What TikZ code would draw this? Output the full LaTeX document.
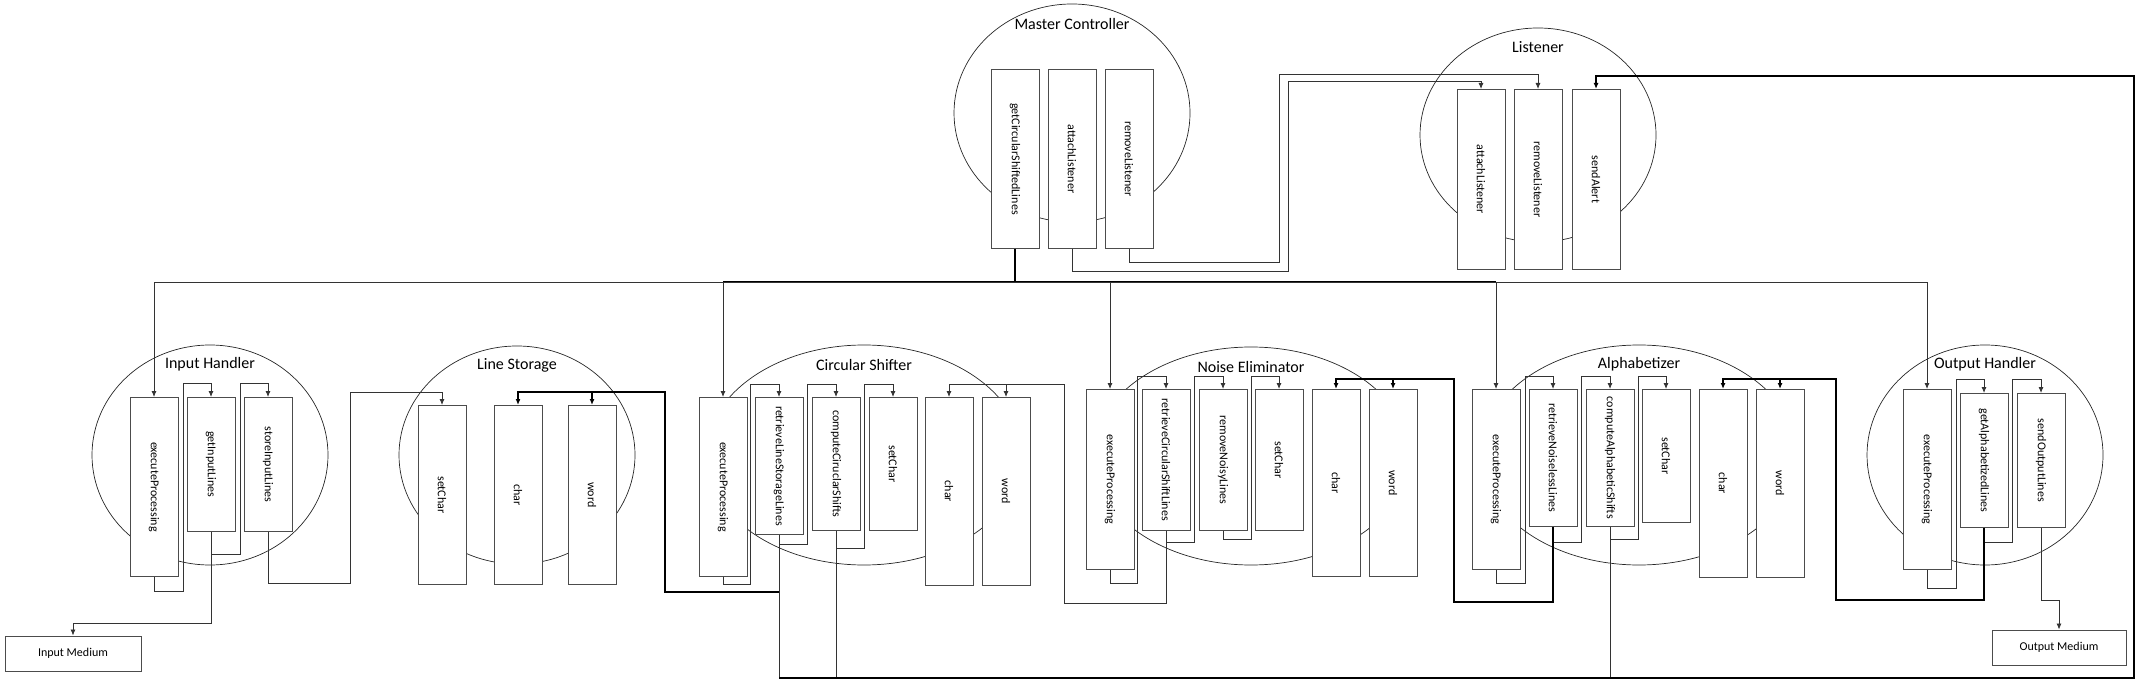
\documentclass[tikz,border=0pt]{standalone}
\usepackage{fontspec}
\setmainfont{Carlito}
\usetikzlibrary{shapes.geometric,arrows.meta}

\newcommand{\turned}[1]{\rotatebox{-90}{#1}}

\tikzset{
    compo/.style={ellipse, draw=black!85, line width=0.7pt, inner sep=0pt},
    method/.style={draw=black!70, fill=white, line width=0.9pt, minimum width=48pt,
        inner sep=0pt, anchor=north, font=\fontsize{12}{14}\selectfont},
    iobox/.style={draw=black!70, line width=0.9pt, minimum height=35pt, inner sep=0pt,
        font=\fontsize{12}{14}\selectfont},
    wire/.style={draw=black!80, line width=0.8pt},
    heavy/.style={draw=black, line width=1.8pt},
    alertline/.style={draw=black, line width=1.3pt},
}

\begin{document}
\begin{tikzpicture}[x=1pt, y=-1pt, >={Latex[length=6pt,width=5pt]},
    every label/.style={font=\fontsize{16}{19}\selectfont}]
    \useasboundingbox (0,0) rectangle (2140,684);

    % modules
    \node[compo, minimum width=236pt, minimum height=218pt, label={[anchor=center,yshift=-20pt]north:Master Controller}] (mc) at (1072,113) {};
    \node[compo, minimum width=236pt, minimum height=214pt, label={[anchor=center,yshift=-19pt]north:Listener}] (li) at (1538,135) {};
    \node[compo, minimum width=236pt, minimum height=220pt, label={[anchor=center,yshift=-20pt]north:Input Handler}] (ih) at (210,455) {};
    \node[compo, minimum width=236pt, minimum height=218pt, label={[anchor=center,yshift=-20pt]north:Line Storage}] (ls) at (517,455) {};
    \node[compo, minimum width=316pt, minimum height=220pt, label={[anchor=center,yshift=-20pt]north:Circular Shifter}] (cs) at (864,455) {};
    \node[compo, minimum width=316pt, minimum height=218pt, label={[anchor=center,yshift=-20pt]north:Noise Eliminator}] (ne) at (1251,456) {};
    \node[compo, minimum width=316pt, minimum height=220pt, label={[anchor=center,yshift=-20pt]north:Alphabetizer}] (al) at (1639,455) {};
    \node[compo, minimum width=236pt, minimum height=220pt, label={[anchor=center,yshift=-20pt]north:Output Handler}] (oh) at (1985,455) {};

    % methods
    \node[method, minimum height=179pt] (mcGet) at (1015,69) {\turned{getCircularShiftedLines}};
    \node[method, minimum height=179pt] (mcAttach) at (1072,69) {\turned{attachListener}};
    \node[method, minimum height=179pt] (mcRemove) at (1129,69) {\turned{removeListener}};

    \node[method, minimum height=180pt] (liAttach) at (1481,89) {\turned{attachListener}};
    \node[method, minimum height=180pt] (liRemove) at (1538,89) {\turned{removeListener}};
    \node[method, minimum height=180pt] (liSend) at (1596,89) {\turned{sendAlert}};

    \node[method, minimum height=179pt] (ihExec) at (154,397) {\turned{executeProcessing}};
    \node[method, minimum height=134pt] (ihGet) at (211,397) {\turned{getInputLines}};
    \node[method, minimum height=134pt] (ihStore) at (268,397) {\turned{storeInputLines}};

    \node[method, minimum height=179pt] (lsSet) at (442,405) {\turned{setChar}};
    \node[method, minimum height=179pt] (lsChar) at (518,405) {\turned{char}};
    \node[method, minimum height=179pt] (lsWord) at (592,405) {\turned{word}};

    \node[method, minimum height=179pt] (csExec) at (723,397) {\turned{executeProcessing}};
    \node[method, minimum height=137pt] (csRetr) at (779,397) {\turned{retrieveLineStorageLines}};
    \node[method, minimum height=133pt] (csComp) at (836,397) {\turned{computeCiruclarShifts}};
    \node[method, minimum height=133pt] (csSet) at (893,397) {\turned{setChar}};
    \node[method, minimum height=188pt] (csChar) at (949,397) {\turned{char}};
    \node[method, minimum height=188pt] (csWord) at (1006,397) {\turned{word}};

    \node[method, minimum height=180pt] (neExec) at (1110,389) {\turned{executeProcessing}};
    \node[method, minimum height=141pt] (neRetr) at (1166,389) {\turned{retrieveCircularShiftLines}};
    \node[method, minimum height=141pt] (neRem) at (1223,389) {\turned{removeNoisyLines}};
    \node[method, minimum height=141pt] (neSet) at (1279,389) {\turned{setChar}};
    \node[method, minimum height=187pt] (neChar) at (1336,389) {\turned{char}};
    \node[method, minimum height=187pt] (neWord) at (1393,389) {\turned{word}};

    \node[method, minimum height=180pt] (alExec) at (1496,389) {\turned{executeProcessing}};
    \node[method, minimum height=137pt] (alRetr) at (1553,389) {\turned{retrieveNoiselessLines}};
    \node[method, minimum height=137pt] (alComp) at (1610,389) {\turned{computeAlphabeticShifts}};
    \node[method, minimum height=133pt] (alSet) at (1666,389) {\turned{setChar}};
    \node[method, minimum height=188pt] (alChar) at (1723,389) {\turned{char}};
    \node[method, minimum height=188pt] (alWord) at (1780,389) {\turned{word}};

    \node[method, minimum height=180pt] (ohExec) at (1927,389) {\turned{executeProcessing}};
    \node[method, minimum height=134pt] (ohGet) at (1984,393) {\turned{getAlphabetizedLines}};
    \node[method, minimum height=134pt] (ohSend) at (2041,393) {\turned{sendOutputLines}};

    \node[iobox, minimum width=136pt] (inMed) at (73,653.5) {Input Medium};
    \node[iobox, minimum width=134pt] (outMed) at (2059,647.5) {Output Medium};

    \coordinate (hub) at (1015,282);
    \coordinate (bl) at (0,678);

    % master controller calls
    \draw[heavy] (mcGet.south) -- (hub);
    \draw[heavy] (csExec.north |- hub) -- (alExec.north |- hub);
    \draw[wire,->] (hub) -| (ihExec.north);
    \draw[wire,->] (hub) -| (csExec.north);
    \draw[wire,->] (hub) -| (neExec.north);
    \draw[wire,->] (hub) -| (alExec.north);
    \draw[wire,->] (hub) -| (ohExec.north);
    \draw[wire,->] (mcAttach.south) -- ++(0,23) -| (1288,81) -| (liAttach.north);
    \draw[wire,->] (mcRemove.south) -- ++(0,14) -| (1279,74) -| (liRemove.north);

    % input handler
    \draw[wire,->] (ihExec.south) -- ++(0,14) -| (183,383) -| (ihGet.north);
    \draw[wire,->] (ihGet.south) -- ++(0,22) -| (240,383) -| (ihStore.north);
    \draw[wire,->] (ihGet.south) -- ++(0,91) -| (inMed.north);
    \draw[wire,->] (ihStore.south) -- ++(0,51) -| (350,392) -| (lsSet.north);

    % circular shifter
    \draw[wire,->] (csExec.south) -- ++(0,7) -| (750,384) -| (csRetr.north);
    \draw[wire,->] (csRetr.south) -- ++(0,9) -| (807,384) -| (csComp.north);
    \draw[wire,->] (csComp.south) -- ++(0,17) -| (864,384) -| (csSet.north);
    \draw[heavy,->] (csRetr.south) ++(0,57) -| (665,392) -| (lsChar.north);
    \draw[heavy,->] (665,392) -| (lsWord.north);

    % noise eliminator
    \draw[wire,->] (neExec.south) -- ++(0,13) -| (1137,376) -| (neRetr.north);
    \draw[wire,->] (neRetr.south) -- ++(0,11) -| (1194,376) -| (neRem.north);
    \draw[wire,->] (neRem.south) -- ++(0,8) -| (1251,376) -| (neSet.north);
    \draw[wire,->] (neRetr.south) -- ++(0,72) -| (1064,384) -| (csChar.north);
    \draw[wire,->] (1064,384) -| (csWord.north);

    % alphabetizer
    \draw[wire,->] (alExec.south) -- ++(0,13) -| (1525,376) -| (alRetr.north);
    \draw[wire,->] (alRetr.south) -- ++(0,15) -| (1581,376) -| (alComp.north);
    \draw[wire,->] (alComp.south) -- ++(0,12) -| (1638,376) -| (alSet.north);
    \draw[heavy,->] (alRetr.south) -- ++(0,75) -| (1454,379) -| (neChar.north);
    \draw[heavy,->] (1454,379) -| (neWord.north);

    % output handler
    \draw[wire,->] (ohExec.south) -- ++(0,18) -| (1956,379) -| (ohGet.north);
    \draw[wire,->] (ohGet.south) -- ++(0,14) -| (2012,379) -| (ohSend.north);
    \draw[wire,->] (ohSend.south) -- ++(0,72) -| (outMed.north);
    \draw[heavy,->] (ohGet.south) -- ++(0,72) -| (1836,379) -| (alChar.north);
    \draw[heavy,->] (1836,379) -| (alWord.north);

    % alerts
    \draw[wire] (csRetr.south) -- (csRetr.south |- bl);
    \draw[wire] (csComp.south) -- (csComp.south |- bl);
    \draw[wire] (alComp.south) -- (alComp.south |- bl);
    \draw[alertline,->] (csRetr.south |- bl) -- (2134,678) -- (2134,76) -| (liSend.north);
\end{tikzpicture}
\end{document}
